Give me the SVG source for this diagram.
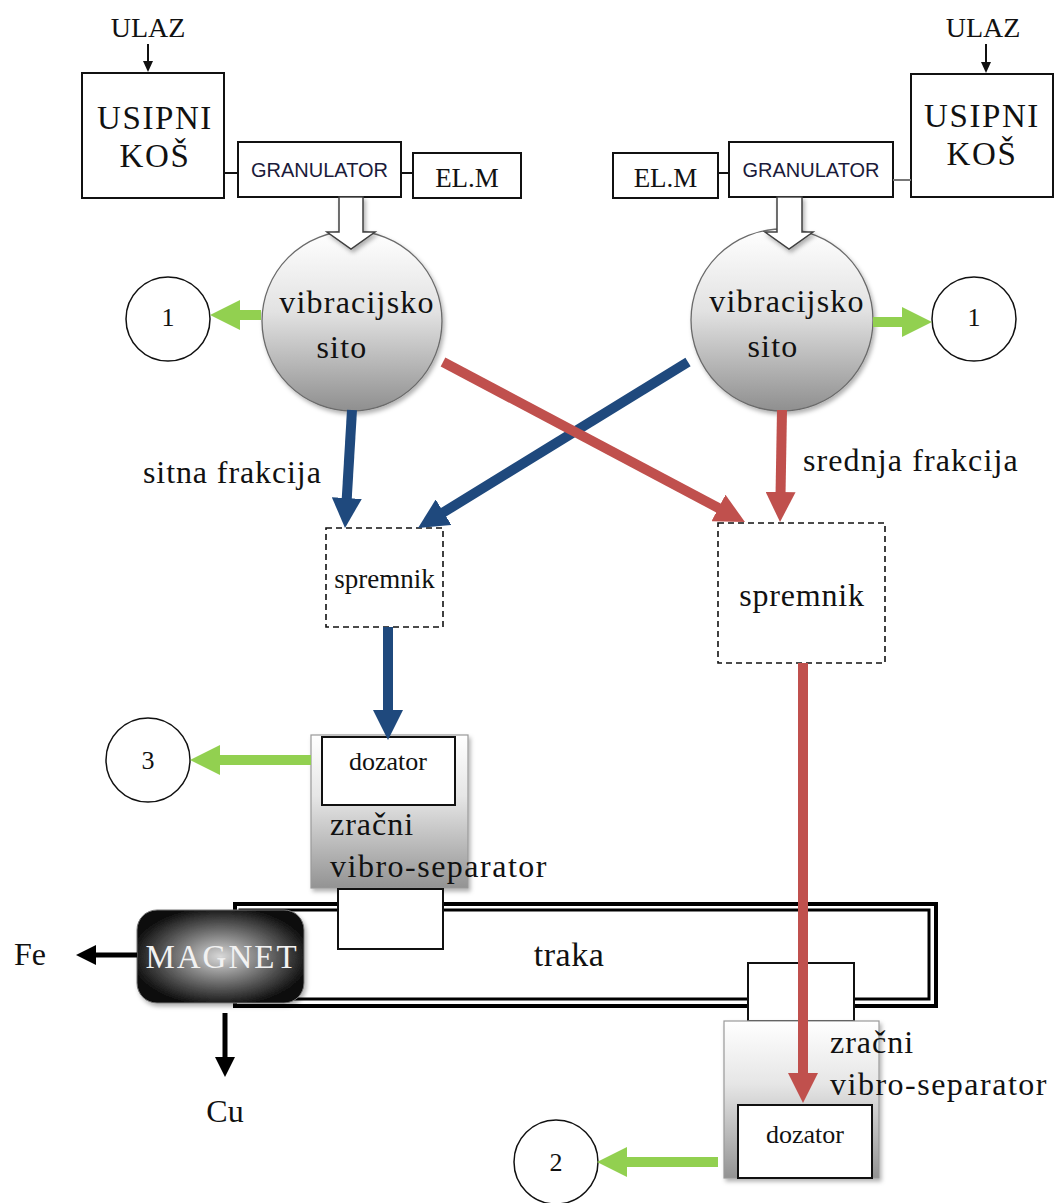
<svg xmlns="http://www.w3.org/2000/svg" width="1054" height="1203" viewBox="0 0 1054 1203">
<style>
.t{font-family:"Liberation Serif","Times New Roman",serif;fill:#111}
.w{letter-spacing:1.2px}
.s{font-family:"Liberation Sans",Arial,sans-serif;fill:#1a1a3a}
.box{fill:#fff;stroke:#111;stroke-width:2}
.dash{fill:#fff;stroke:#111;stroke-width:1.6;stroke-dasharray:6 4}
.thin{stroke:#111;stroke-width:2;fill:none}
.circ{fill:#fff;stroke:#111;stroke-width:1.5}
.blue{stroke:#1F497D;stroke-width:10;fill:none}
.red{stroke:#C0504D;stroke-width:10;fill:none}
.green{stroke:#92D050;stroke-width:10;fill:none}
.blk{stroke:#000;stroke-width:5;fill:none}
.hol{fill:#fff;stroke:#404040;stroke-width:1.5}
.sep{stroke:#999;stroke-width:1.2}
</style>
<defs>
<linearGradient id="gSieve" x1="0" y1="0" x2="0" y2="1">
<stop offset="0" stop-color="#ffffff"/>
<stop offset="0.45" stop-color="#e2e2e2"/>
<stop offset="1" stop-color="#8f8f8f"/>
</linearGradient>
<linearGradient id="gSep" x1="0" y1="0" x2="0" y2="1">
<stop offset="0" stop-color="#ffffff"/>
<stop offset="0.4" stop-color="#e6e6e6"/>
<stop offset="1" stop-color="#939393"/>
</linearGradient>
<radialGradient id="gMag" cx="0.5" cy="0.5" r="0.55">
<stop offset="0" stop-color="#d8d8d8"/>
<stop offset="0.45" stop-color="#7a7a7a"/>
<stop offset="1" stop-color="#0a0a0a"/>
</radialGradient>
<filter id="sh" x="-20%" y="-20%" width="140%" height="140%">
<feDropShadow dx="2" dy="3" stdDeviation="2" flood-color="#000" flood-opacity="0.3"/>
</filter>
<marker id="mB" markerUnits="userSpaceOnUse" markerWidth="30" markerHeight="30" refX="15" refY="15" orient="auto"><path d="M0,0 L30,15 L0,30 z" fill="#1F497D"/></marker>
<marker id="mR" markerUnits="userSpaceOnUse" markerWidth="30" markerHeight="30" refX="15" refY="15" orient="auto"><path d="M0,0 L30,15 L0,30 z" fill="#C0504D"/></marker>
<marker id="mG" markerUnits="userSpaceOnUse" markerWidth="30" markerHeight="30" refX="15" refY="15" orient="auto"><path d="M0,0 L30,15 L0,30 z" fill="#92D050"/></marker>
<marker id="mK" markerUnits="userSpaceOnUse" markerWidth="20" markerHeight="20" refX="9" refY="10" orient="auto"><path d="M0,0 L20,10 L0,20 z" fill="#000"/></marker>
<marker id="mS" markerUnits="userSpaceOnUse" markerWidth="12" markerHeight="12" refX="6" refY="6" orient="auto"><path d="M0,1 L11,6 L0,11 z" fill="#111"/></marker>
</defs>
<rect width="1054" height="1203" fill="#fff"/>

<!-- Left feed line -->
<g id="ulaz-left"><text class="t" x="148" y="37" font-size="28" text-anchor="middle">ULAZ</text></g>
<g id="usipni-left"><rect class="box" x="82" y="73" width="142" height="125"/>
<text class="t" x="155" y="129" font-size="33" text-anchor="middle" letter-spacing="1.6">USIPNI</text>
<text class="t" x="155" y="167" font-size="33" text-anchor="middle" letter-spacing="1.6">KOŠ</text></g>
<g id="granulator-left"><rect class="box" x="238" y="142" width="163" height="55"/>
<text class="s" x="319.5" y="177" font-size="20" text-anchor="middle">GRANULATOR</text></g>
<g id="elm-left"><rect class="box" x="413" y="153" width="108" height="45"/>
<text class="t" x="467" y="187" font-size="27" text-anchor="middle">EL.M</text></g>

<!-- Right feed line -->
<g id="ulaz-right"><text class="t" x="983" y="37" font-size="28" text-anchor="middle">ULAZ</text></g>
<g id="usipni-right"><rect class="box" x="911" y="74" width="142" height="123"/>
<text class="t" x="982" y="127" font-size="33" text-anchor="middle" letter-spacing="1.6">USIPNI</text>
<text class="t" x="982" y="165" font-size="33" text-anchor="middle" letter-spacing="1.6">KOŠ</text></g>
<g id="granulator-right"><rect class="box" x="729" y="142" width="164" height="55"/>
<text class="s" x="811" y="177" font-size="20" text-anchor="middle">GRANULATOR</text></g>
<g id="elm-right"><rect class="box" x="613" y="153" width="105" height="45"/>
<text class="t" x="665.5" y="187" font-size="27" text-anchor="middle">EL.M</text></g>

<!-- Sieves -->
<g id="sito-left"><circle cx="352" cy="321" r="90" fill="url(#gSieve)" stroke="#6a6a6a" stroke-width="1.3" filter="url(#sh)"/>
<text class="t w" x="357" y="313" font-size="32" text-anchor="middle">vibracijsko</text>
<text class="t w" x="342" y="358" font-size="32" text-anchor="middle">sito</text></g>
<g id="sito-right"><circle cx="782" cy="320" r="91" fill="url(#gSieve)" stroke="#6a6a6a" stroke-width="1.3" filter="url(#sh)"/>
<text class="t w" x="787" y="312" font-size="32" text-anchor="middle">vibracijsko</text>
<text class="t w" x="773" y="357" font-size="32" text-anchor="middle">sito</text></g>

<!-- Output circles -->
<g id="out1-left"><circle class="circ" cx="168" cy="319" r="42"/><text class="t" x="168" y="326" font-size="26" text-anchor="middle">1</text></g>
<g id="out1-right"><circle class="circ" cx="974" cy="319" r="42"/><text class="t" x="974" y="326" font-size="26" text-anchor="middle">1</text></g>
<g id="out3"><circle class="circ" cx="148" cy="760" r="42"/><text class="t" x="148" y="769" font-size="26" text-anchor="middle">3</text></g>
<g id="out2"><circle class="circ" cx="556" cy="1162" r="42"/><text class="t" x="556" y="1171" font-size="26" text-anchor="middle">2</text></g>

<!-- Labels -->
<g id="lbl-sitna"><text class="t" x="143" y="483" font-size="32" letter-spacing="0.9">sitna frakcija</text></g>
<g id="lbl-srednja"><text class="t" x="803" y="471" font-size="32" letter-spacing="1.1">srednja frakcija</text></g>

<!-- Storage bins -->
<g id="spremnik-left"><rect class="dash" x="326" y="528" width="117" height="99"/>
<text class="t" x="384.5" y="588" font-size="27" text-anchor="middle">spremnik</text></g>
<g id="spremnik-right"><rect class="dash" x="718" y="523" width="167" height="140"/>
<text class="t" x="802" y="606" font-size="32" text-anchor="middle" letter-spacing="0.8">spremnik</text></g>

<!-- Left separator -->
<g id="separator-left"><rect class="sep" x="311" y="735" width="157" height="153" fill="url(#gSep)" filter="url(#sh)"/>
<rect class="box" x="322" y="737" width="133" height="68"/>
<text class="t" x="388" y="770" font-size="26" text-anchor="middle">dozator</text>
<text class="t" x="330" y="835" font-size="32" letter-spacing="1">zračni</text>
<text class="t" x="330" y="877" font-size="32" letter-spacing="1.5">vibro-separator</text></g>

<!-- Conveyor -->
<g id="traka"><rect x="235" y="904" width="701" height="102" fill="#fff" stroke="#000" stroke-width="4"/>
<rect x="240" y="910" width="689" height="89" fill="#fff" stroke="#000" stroke-width="3"/>
<rect class="box" x="338" y="889" width="105" height="60"/>
<rect class="box" x="748" y="963" width="106" height="58"/>
<text class="t" x="569" y="966" font-size="34" text-anchor="middle" letter-spacing="0.5">traka</text></g>

<!-- Magnet -->
<g id="magnet"><rect x="137" y="910" width="167" height="93" rx="20" fill="url(#gMag)" stroke="#777" stroke-width="1" filter="url(#sh)"/>
<text x="222" y="968" font-size="33" text-anchor="middle" letter-spacing="2" font-family="Liberation Serif, Times New Roman, serif" fill="#f2f2f2">MAGNET</text></g>
<g id="lbl-fe"><text class="t" x="14" y="965" font-size="32">Fe</text></g>
<g id="lbl-cu"><text class="t" x="225" y="1122" font-size="32" text-anchor="middle">Cu</text></g>

<!-- Right separator -->
<g id="separator-right"><rect class="sep" x="724" y="1021" width="155" height="157" fill="url(#gSep)" filter="url(#sh)"/>
<rect class="box" x="738" y="1105" width="134" height="73"/>
<text class="t" x="805" y="1143" font-size="26" text-anchor="middle">dozator</text>
<text class="t" x="830" y="1053" font-size="32" letter-spacing="1">zračni</text>
<text class="t" x="830" y="1095" font-size="32" letter-spacing="1.5">vibro-separator</text></g>

<!-- Connectors -->
<g id="connectors">
<line class="thin" x1="148" y1="44" x2="148" y2="67" stroke-width="1.5" marker-end="url(#mS)"/>
<line class="thin" x1="986" y1="44" x2="986" y2="68" stroke-width="1.5" marker-end="url(#mS)"/>
<line class="thin" x1="224" y1="173" x2="238" y2="173"/>
<line class="thin" x1="401" y1="173" x2="413" y2="173"/>
<line class="thin" x1="718" y1="173" x2="729" y2="173"/>
<line x1="893" y1="180" x2="911" y2="180" stroke="#777" stroke-width="2"/>
<path class="hol" filter="url(#sh)" d="M339,197 L363,197 L363,232 L375,232 L351,249 L327,232 L339,232 Z"/>
<path class="hol" filter="url(#sh)" d="M777,197 L802,197 L802,232 L813,232 L789,249 L765,232 L777,232 Z"/>
<line class="green" x1="261" y1="315" x2="225" y2="315" marker-end="url(#mG)"/>
<line class="green" x1="873" y1="322" x2="917" y2="322" marker-end="url(#mG)"/>
<line class="blue" x1="352" y1="410" x2="345.9" y2="513" marker-end="url(#mB)"/>
<line class="blue" x1="688" y1="362" x2="430.8" y2="520.1" marker-end="url(#mB)"/>
<line class="red" x1="443" y1="362" x2="731.7" y2="515" marker-end="url(#mR)"/>
<line class="red" x1="782" y1="410" x2="780.3" y2="507" marker-end="url(#mR)"/>
<line class="blue" x1="388" y1="627" x2="388" y2="725" marker-end="url(#mB)"/>
<line class="green" x1="311" y1="760" x2="205" y2="760" marker-end="url(#mG)"/>
<line class="red" x1="803" y1="663" x2="803" y2="1088" marker-end="url(#mR)"/>
<line class="green" x1="718" y1="1162" x2="612" y2="1162" marker-end="url(#mG)"/>
<line class="blk" x1="137" y1="955" x2="87" y2="955" marker-end="url(#mK)"/>
<line class="blk" x1="225" y1="1013" x2="225" y2="1066" marker-end="url(#mK)"/>
</g>
</svg>
